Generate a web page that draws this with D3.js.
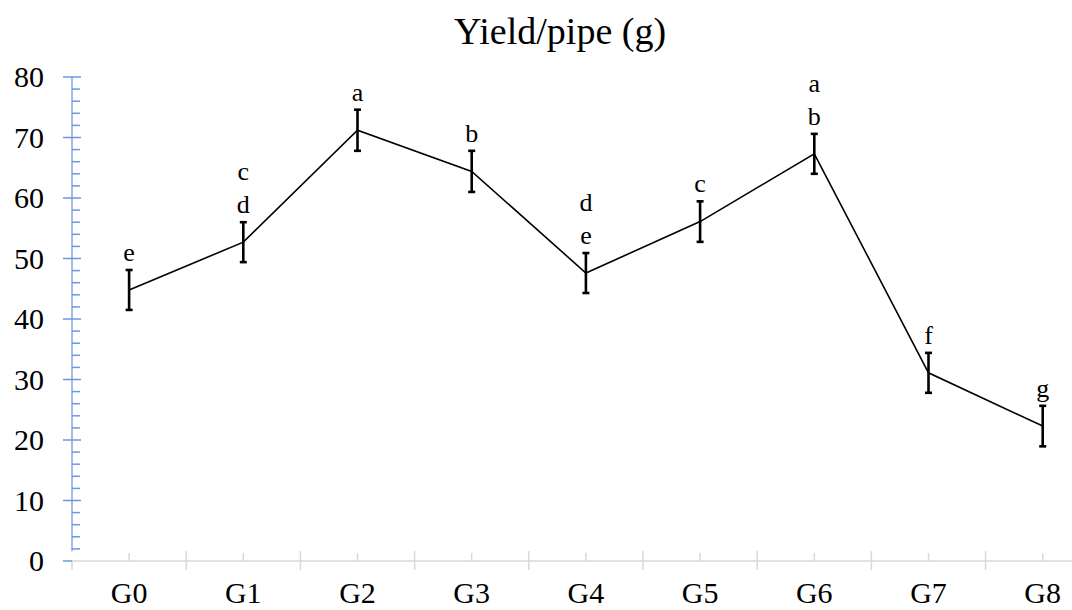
<!DOCTYPE html>
<html>
<head>
<meta charset="utf-8">
<script src="https://cdn.jsdelivr.net/npm/d3@7"></script>
<style>
  body { margin: 0; background: #fff; }
  svg { display: block; font-family: "Liberation Serif", "Times New Roman", serif; }
</style>
</head>
<body>
<div id="canvas"></div>
<script>
const groups = ["G0", "G1", "G2", "G3", "G4", "G5", "G6", "G7", "G8"];
const yieldMeans = [44.8, 52.7, 71.2, 64.4, 47.6, 56.1, 67.3, 31.1, 22.3];
const yieldErrors = [3.3, 3.3, 3.4, 3.4, 3.3, 3.35, 3.3, 3.3, 3.35];
const letters = [["e"], ["c", "d"], ["a"], ["b"], ["d", "e"], ["c"], ["a", "b"], ["f"], ["g"]];
const yTicks = [0, 10, 20, 30, 40, 50, 60, 70, 80];

const width = 1072;
const height = 610;

const svg = d3.select("#canvas").append("svg")
    .attr("width", width)
    .attr("height", height);

const x = d3.scaleBand()
    .domain(groups)
    .range([72, 72 + 9 * 114.2]);

const y = d3.scaleLinear()
    .domain([0, 80])
    .range([561, 77]);

const cx = d => x(d) + x.bandwidth() / 2;

// title
svg.append("text")
    .attr("x", 560)
    .attr("y", 44)
    .attr("text-anchor", "middle")
    .style("font-size", "38px")
    .text("Yield/pipe (g)");

// x axis (grey)
const xa = svg.append("g").attr("stroke", "#d9d9d9").attr("stroke-width", 1.5);
xa.append("line")
    .attr("x1", 72).attr("x2", x.range()[1])
    .attr("y1", y(0)).attr("y2", y(0));
xa.selectAll(".bound").data(d3.range(groups.length + 1)).enter().append("line")
    .attr("x1", i => 72 + i * x.bandwidth())
    .attr("x2", i => 72 + i * x.bandwidth())
    .attr("y1", i => i === 0 ? y(0) - 1 : y(0) - 10)
    .attr("y2", y(0) + 9);
xa.selectAll(".mid").data(groups).enter().append("line")
    .attr("x1", cx).attr("x2", cx)
    .attr("y1", y(0) - 8).attr("y2", y(0));

svg.selectAll(".xlab").data(groups).enter().append("text")
    .attr("x", cx)
    .attr("y", 603)
    .attr("text-anchor", "middle")
    .style("font-size", "30px")
    .text(d => d);

// y axis (blue)
const ya = svg.append("g");
ya.append("line")
    .attr("x1", 72).attr("x2", 72)
    .attr("y1", y(80)).attr("y2", y(1.6))
    .attr("stroke", "#a4bce6").attr("stroke-width", 2);
ya.selectAll(".minor").data(d3.range(0, 81, 2).filter(v => v % 10 !== 0)).enter().append("line")
    .attr("x1", 72).attr("x2", 80)
    .attr("y1", d => y(d)).attr("y2", d => y(d))
    .attr("stroke", "#6f97de").attr("stroke-width", 1.5);
ya.selectAll(".major").data(yTicks).enter().append("line")
    .attr("x1", 63).attr("x2", d => d === 0 ? 72 : 81)
    .attr("y1", d => y(d)).attr("y2", d => y(d))
    .attr("stroke", "#6f97de").attr("stroke-width", 1.5);
ya.selectAll(".ylab").data(yTicks).enter().append("text")
    .attr("x", 44)
    .attr("y", d => y(d))
    .attr("dy", "0.34em")
    .attr("text-anchor", "end")
    .style("font-size", "30px")
    .text(d => d);

// line
const line = d3.line()
    .x((d, i) => cx(groups[i]))
    .y(d => y(d));

svg.append("path")
    .datum(yieldMeans)
    .attr("d", line)
    .attr("fill", "none")
    .attr("stroke", "#000")
    .attr("stroke-width", 1.6);

// error bars
const eb = svg.append("g").attr("stroke", "#000").attr("stroke-width", 2.6);
groups.forEach((g, i) => {
    const top = y(yieldMeans[i] + yieldErrors[i]);
    const bot = y(yieldMeans[i] - yieldErrors[i]);
    eb.append("line").attr("x1", cx(g)).attr("x2", cx(g)).attr("y1", top).attr("y2", bot);
    eb.append("line").attr("x1", cx(g) - 3.5).attr("x2", cx(g) + 3.5).attr("y1", top).attr("y2", top);
    eb.append("line").attr("x1", cx(g) - 3.5).attr("x2", cx(g) + 3.5).attr("y1", bot).attr("y2", bot);
});

// significance letters
groups.forEach((g, i) => {
    const top = y(yieldMeans[i] + yieldErrors[i]);
    const ls = letters[i];
    ls.forEach((l, j) => {
        svg.append("text")
            .attr("x", cx(g))
            .attr("y", top - 9 - (ls.length - 1 - j) * 33)
            .attr("text-anchor", "middle")
            .style("font-size", "26px")
            .text(l);
    });
});
</script>
</body>
</html>
